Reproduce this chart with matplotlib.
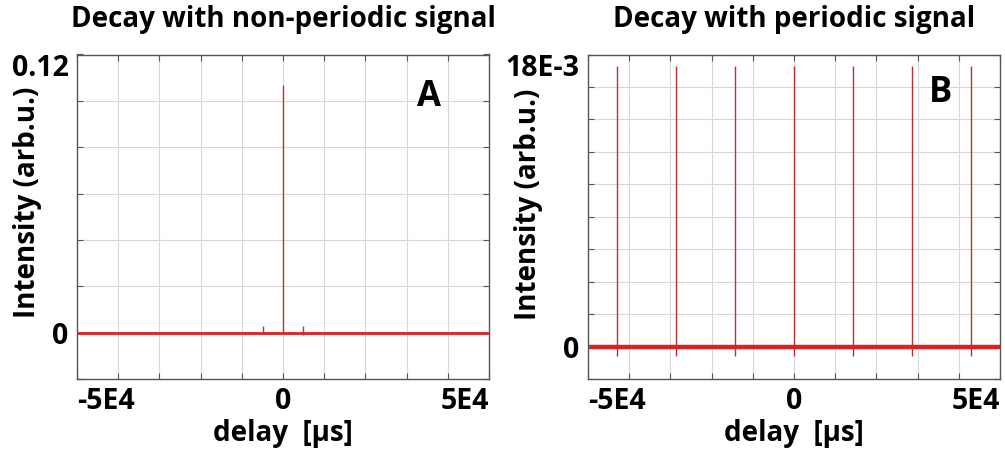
import numpy as np
import matplotlib
matplotlib.use("Agg")
import matplotlib.pyplot as plt

plt.rcParams["font.family"] = ["Open Sans", "DejaVu Sans"]
plt.rcParams["font.weight"] = "bold"

# ---- data ----
x_lim = (-5e4, 5e4)
x_grid = [-4e4, -3e4, -2e4, -1e4, 0, 1e4, 2e4, 3e4, 4e4]
x_ticks = [-5e4, 0, 5e4]
x_ticklabels = ["-5E4", "0", "5E4"]

# panel A: single peak at zero delay, two small side blips
a_ylim = (-0.02, 0.12)
a_ygrid = [-0.02, 0, 0.02, 0.04, 0.06, 0.08, 0.10, 0.12]
a_yticks = [0, 0.12]
a_yticklabels = ["0", "0.12"]
a_spike_x = [-4900, 0, 4900]
a_spike_top = [0.0028, 0.107, 0.0030]
a_spike_bot = [0.0, -0.0006, -0.0012]

# panel B: periodic train of peaks
b_ylim = (-0.002, 0.018)
b_ygrid = [-0.002, 0, 0.002, 0.004, 0.006, 0.008, 0.010, 0.012, 0.014, 0.016, 0.018]
b_yticks = [0, 0.018]
b_yticklabels = ["0", "18E-3"]
b_spike_x = [-42900, -28600, -14300, 0, 14300, 28600, 42900]
b_spike_top = [0.0173, 0.0173, 0.0173, 0.0173, 0.0173, 0.0173, 0.0173]
b_spike_bot = [-0.0006, -0.0006, -0.0006, -0.0006, -0.0006, -0.0006, -0.0006]

RED = "#e02020"
SPIKE = "#c03030"
W, H = 1005, 458

fig = plt.figure(figsize=(W / 100, H / 100), dpi=100)


def panel(left, ylim, ygrid, yticks, yticklabels, sx, stop, sbot,
          base_lw, letter, letter_px, title, ylab_px):
    ax = fig.add_axes([left / W, 1 - 379 / H, 412 / W, 324.5 / H])
    ax.set_xlim(*x_lim)
    ax.set_ylim(*ylim)
    for g in x_grid:
        ax.axvline(g, color="#d8d8d8", lw=0.8, zorder=0)
    for g in ygrid:
        ax.axhline(g, color="#d8d8d8", lw=0.8, zorder=0)
    ax.plot(x_lim, [0, 0], color=RED, lw=base_lw, zorder=2)
    ax.vlines(sx, sbot, stop, color=SPIKE, lw=1.0, zorder=3)

    # minor ticks at every grid line (inward, all sides), majors carry labels
    ax.set_xticks(x_grid, minor=True)
    ax.set_yticks(ygrid, minor=True)
    ax.set_xticks(x_ticks, labels=x_ticklabels)
    ax.set_yticks(yticks, labels=yticklabels)
    ax.tick_params(which="both", direction="in", top=True, right=True,
                   color="#555555", length=4, width=0.8)
    ax.tick_params(axis="x", which="major", labelsize=20.5, pad=6)
    ax.tick_params(axis="y", which="major", labelsize=20.5, pad=6)
    xl = ax.get_xticklabels()
    xl[0].set_ha("left")
    xl[-1].set_ha("right")
    ax.get_yticklabels()[-1].set_va("top")
    for s in ax.spines.values():
        s.set_color("#555555")
        s.set_linewidth(1.0)

    ax.set_xlabel("delay  [µs]", fontsize=20, fontweight="bold", labelpad=2)
    ax.set_ylabel("Intensity (arb.u.)", fontsize=20, fontweight="bold")
    ax.yaxis.set_label_coords((ylab_px[0] - left) / 412,
                              (379 - ylab_px[1]) / 324.5)
    ax.text((letter_px[0] - left) / 412, (379 - letter_px[1]) / 324.5, letter,
            transform=ax.transAxes, fontsize=25, fontweight="bold",
            ha="center", va="center")
    fig.text((left + 206) / W, 1 - 19 / H, title, fontsize=20,
             fontweight="bold", ha="center", va="center")
    return ax


panel(77, a_ylim, a_ygrid, a_yticks, a_yticklabels,
      a_spike_x, a_spike_top, a_spike_bot, 2.0, "A", (429, 97),
      "Decay with non-periodic signal", (42, 202))
panel(588, b_ylim, b_ygrid, b_yticks, b_yticklabels,
      b_spike_x, b_spike_top, b_spike_bot, 3.2, "B", (941, 93),
      "Decay with periodic signal", (543, 204))

fig.savefig("out.png", dpi=100)
